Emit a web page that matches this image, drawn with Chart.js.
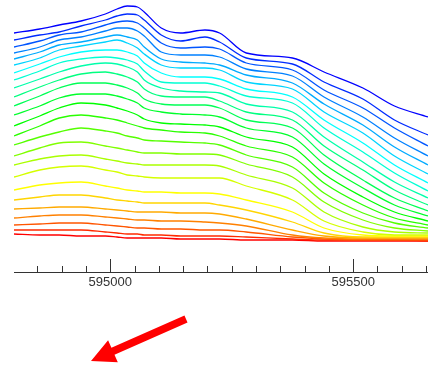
<!DOCTYPE html>
<html>
<head>
<meta charset="utf-8">
<script src="https://cdn.jsdelivr.net/npm/chart.js@4"></script>
<style>
  html, body { margin: 0; padding: 0; background: #fff; }
  #chart { display: block; }
</style>
</head>
<body>
<canvas id="chart" width="428" height="366"></canvas>
<script>
// easting positions where the profiles were sampled
const eastings = [594802, 594855, 594895, 594940, 594990, 595014, 595035, 595056, 595070, 595105,
                  595145, 595195, 595225, 595280, 595375, 595440, 595520, 595585, 595654];

// labelled easting ticks
const tickLabels = [595000, 595500];

// one profile per line, top (blue) to bottom (red); depth, larger = lower on the plot
const profile01 = [33, 29, 25, 21, 14, 9, 6, 7, 12, 28, 33, 30, 33, 53, 58, 72, 88, 106, 117];
const profile02 = [40, 35, 32, 26, 20, 16, 14, 15, 20, 35, 41, 37, 42, 58, 64, 82, 99, 120, 135];
const profile03 = [47, 41, 35, 32, 25, 22, 21, 23, 28, 43, 48, 47, 49, 63, 70, 90, 108, 128, 146];
const profile04 = [53, 47, 40, 37, 31, 28, 28, 31, 36, 52, 55, 55, 57, 69, 76, 97, 117, 138, 156];
const profile05 = [59, 52, 45, 42, 37, 35, 37, 40, 47, 59, 62, 63, 65, 75, 83, 104, 125, 147, 165];
const profile06 = [65, 58, 50, 46, 42, 40, 43, 48, 54, 65, 68, 68, 70, 82, 89, 112, 133, 156, 174];
const profile07 = [73, 64, 57, 52, 50, 50, 52, 56, 63, 73, 77, 77, 79, 89, 97, 120, 143, 165, 183];
const profile08 = [80, 71, 63, 59, 57, 58, 60, 64, 71, 82, 83, 83, 86, 96, 103, 128, 152, 173, 191];
const profile09 = [88, 79, 72, 66, 63, 64, 67, 72, 80, 88, 91, 92, 93, 104, 112, 137, 162, 182, 198];
const profile10 = [97, 87, 80, 74, 72, 74, 77, 82, 89, 96, 97, 97, 101, 112, 120, 146, 170, 190, 205];
const profile11 = [106, 96, 88, 83, 83, 85, 88, 93, 99, 104, 105, 105, 108, 120, 128, 155, 180, 198, 211];
const profile12 = [115, 106, 98, 94, 94, 96, 99, 103, 108, 112, 114, 115, 117, 128, 137, 164, 188, 205, 216];
const profile13 = [126, 116, 108, 103, 105, 108, 111, 115, 119, 123, 124, 125, 127, 137, 147, 174, 197, 212, 221];
const profile14 = [136, 126, 118, 115, 118, 120, 123, 126, 128, 130, 132, 133, 136, 146, 157, 183, 205, 218, 225];
const profile15 = [145, 137, 132, 128, 131, 133, 136, 138, 140, 141, 142, 143, 145, 155, 167, 193, 213, 223, 228];
const profile16 = [156, 148, 143, 142, 146, 148, 150, 152, 153, 153, 154, 154, 155, 164, 177, 202, 220, 228, 231];
const profile17 = [165, 159, 156, 155, 159, 161, 163, 164, 165, 165, 165, 165, 166, 175, 188, 212, 227, 232, 233];
const profile18 = [177, 170, 167, 166, 170, 172, 175, 176, 177, 178, 178, 178, 178, 186, 200, 221, 232, 235, 235];
const profile19 = [190, 185, 183, 182, 186, 188, 190, 191, 192, 192, 193, 193, 194, 200, 212, 228, 235, 236, 236];
const profile20 = [200, 197, 195, 195, 198, 200, 201, 202, 203, 203, 203, 203, 205, 210, 222, 233, 237, 237, 237];
const profile21 = [209, 208, 207, 207, 209, 210, 211, 212, 212, 212, 213, 213, 214, 219, 230, 236, 238, 238, 238];
const profile22 = [218, 216, 215, 215, 217, 218, 219, 220, 220, 221, 221, 222, 223, 226, 235, 238, 239, 239, 239];
const profile23 = [225, 224, 223, 223, 225, 226, 227, 228, 228, 229, 229, 230, 230, 232, 237, 239, 240, 240, 240];
const profile24 = [230, 230, 230, 230, 232, 233, 234, 234, 235, 235, 236, 236, 236, 237, 239, 240, 240, 240, 241];
const profile25 = [234, 235, 235, 236, 236, 237, 238, 238, 238, 238, 239, 239, 239, 240, 240, 241, 241, 241, 241];

const profiles = [profile01, profile02, profile03, profile04, profile05, profile06, profile07,
                  profile08, profile09, profile10, profile11, profile12, profile13, profile14,
                  profile15, profile16, profile17, profile18, profile19, profile20, profile21,
                  profile22, profile23, profile24, profile25];

const majorStep = 500;
const minorStep = 50;

// ticks point up into the plot, short ones every 50, long ones every 500
const tickMarks = {
    id: 'tickMarks',
    afterDraw(chart) {
        const ctx = chart.ctx;
        const xs = chart.scales.x;
        const y0 = xs.top;
        ctx.save();
        ctx.strokeStyle = '#333';
        ctx.lineWidth = 1;
        for (let v = Math.ceil(xs.min / minorStep) * minorStep; v <= xs.max; v += minorStep) {
            const px = Math.round(xs.getPixelForValue(v)) + 0.5;
            const len = v % majorStep === 0 ? 13 : 6;
            ctx.beginPath();
            ctx.moveTo(px, y0);
            ctx.lineTo(px, y0 - len);
            ctx.stroke();
        }
        ctx.restore();
    }
};

// the red arrow under the axis
const arrow = {
    id: 'arrow',
    afterDraw(chart) {
        const ctx = chart.ctx;
        const tail = [186, 319], tip = [91, 361];
        const dx = tip[0] - tail[0], dy = tip[1] - tail[1];
        const len = Math.hypot(dx, dy);
        const ux = dx / len, uy = dy / len;
        const nx = -uy, ny = ux;
        const headLen = 24, headHalf = 12, shaftHalf = 3.8;
        const bx = tip[0] - ux * headLen, by = tip[1] - uy * headLen;
        ctx.save();
        ctx.fillStyle = '#ff0000';
        ctx.beginPath();
        ctx.moveTo(tail[0] + nx * shaftHalf, tail[1] + ny * shaftHalf);
        ctx.lineTo(bx + nx * shaftHalf, by + ny * shaftHalf);
        ctx.lineTo(bx + nx * headHalf, by + ny * headHalf);
        ctx.lineTo(tip[0], tip[1]);
        ctx.lineTo(bx - nx * headHalf, by - ny * headHalf);
        ctx.lineTo(bx - nx * shaftHalf, by - ny * shaftHalf);
        ctx.lineTo(tail[0] - nx * shaftHalf, tail[1] - ny * shaftHalf);
        ctx.closePath();
        ctx.fill();
        ctx.restore();
    }
};

const datasets = profiles.map((prof, i) => {
    const hue = 240 - i * 240 / (profiles.length - 1);
    return {
        data: eastings.map((e, j) => ({ x: e, y: prof[j] })),
        borderColor: `hsl(${hue}, 100%, 50%)`,
        borderWidth: 1.3,
        pointRadius: 0,
        fill: false,
        cubicInterpolationMode: 'monotone'
    };
});

new Chart(document.getElementById('chart'), {
    type: 'line',
    data: { datasets: datasets },
    options: {
        responsive: false,
        animation: false,
        layout: { padding: { left: 14, right: 0, top: 0, bottom: 0 } },
        plugins: {
            legend: { display: false },
            tooltip: { enabled: false }
        },
        scales: {
            x: {
                type: 'linear',
                position: 'bottom',
                min: 594802,
                max: 595654,
                afterBuildTicks: s => { s.ticks = tickLabels.map(v => ({ value: v })); },
                afterFit: s => { s.height = 94; s.paddingLeft = 0; s.paddingRight = 0; },
                grid: { display: true, drawOnChartArea: false, drawTicks: false },
                border: { display: true, color: '#333', width: 1 },
                ticks: {
                    autoSkip: false,
                    maxRotation: 0,
                    padding: 3,
                    color: '#333',
                    font: { family: 'Liberation Sans, Arial, sans-serif', size: 13 },
                    callback: v => String(v)
                }
            },
            y: {
                display: false,
                reverse: true,
                min: 0,
                max: 272
            }
        }
    },
    plugins: [tickMarks, arrow]
});
</script>
</body>
</html>
